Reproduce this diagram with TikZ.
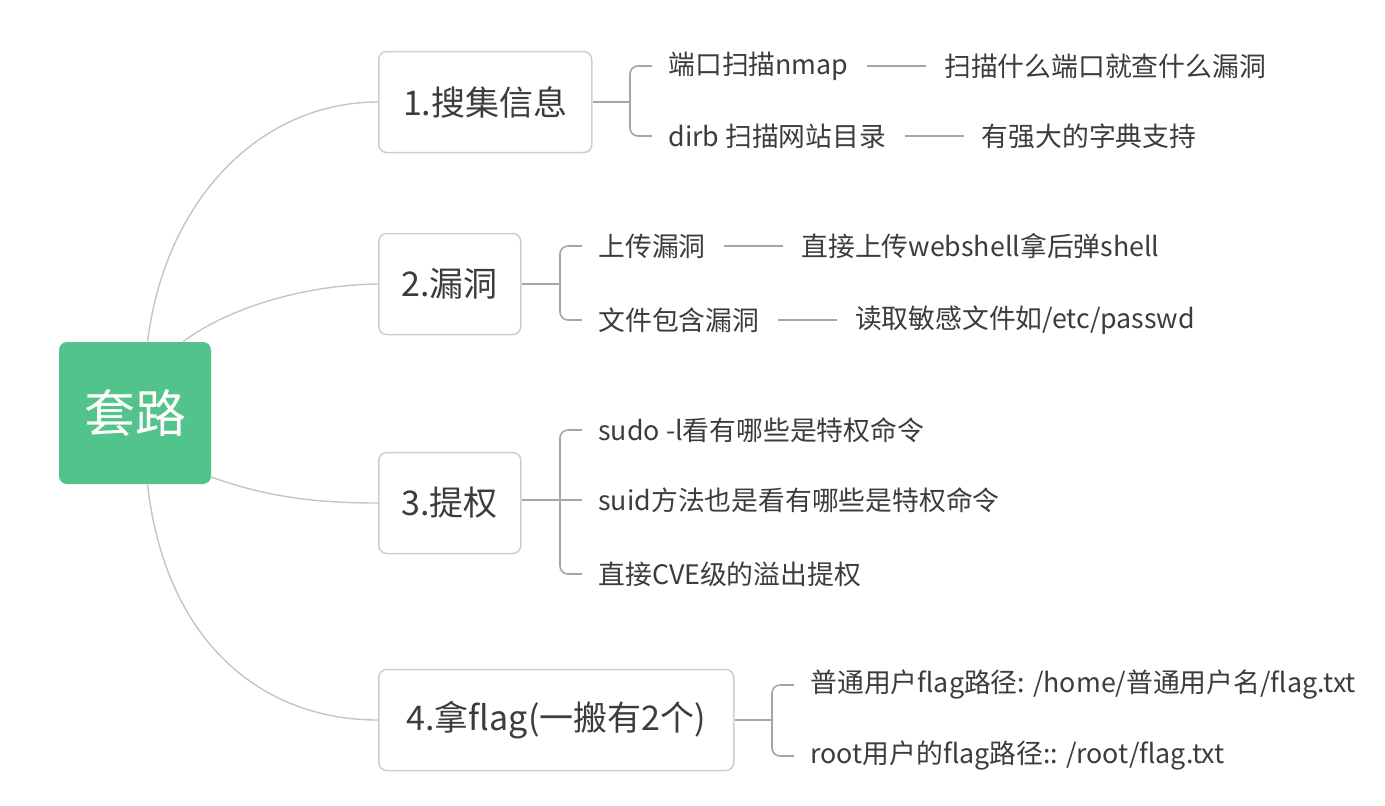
\documentclass[tikz,border=0pt]{standalone}
\usepackage{fontspec}
\setmainfont{Noto Sans CJK SC}
\usetikzlibrary{positioning,calc}

\definecolor{rootgreen}{RGB}{82,195,139}
\definecolor{txtgray}{RGB}{60,60,60}
\definecolor{curvegray}{RGB}{196,196,196}
\definecolor{brkgray}{RGB}{165,165,165}
\definecolor{boxgray}{RGB}{206,206,206}

\tikzset{
  rootbox/.style={fill=rootgreen, text=white, rounded corners=4pt,
    minimum width=76pt, minimum height=71pt, font=\fontsize{25.5}{30}\selectfont},
  topic/.style={draw=boxgray, line width=0.75pt, rounded corners=4pt, fill=white,
    minimum height=50.5pt, inner xsep=8pt, anchor=west, text=txtgray,
    font=\fontsize{17}{20}\selectfont},
  leaf/.style={inner xsep=8pt, inner ysep=0pt, anchor=west, text=txtgray,
    font=\fontsize{13.4}{16}\selectfont},
  curve/.style={draw=curvegray, line width=0.7pt},
  bracket/.style={draw=brkgray, line width=0.8pt, rounded corners=4pt},
  dashline/.style={draw=brkgray, line width=0.6pt, shorten <=1pt, shorten >=1pt}
}

\begin{document}
\begin{tikzpicture}[x=0.5pt, y=-0.5pt]
  \useasboundingbox (0,0) rectangle (1385,805);

  % root and main topics
  \node[rootbox] (root) at (135,413) {套路};
  \node[topic, minimum width=106.5pt] (gather) at (378,102) {1.搜集信息};
  \node[topic, minimum width=71pt] (vuln) at (378,284) {2.漏洞};
  \node[topic, minimum width=71pt] (priv) at (378,503) {3.提权};
  \node[topic, minimum width=177.5pt] (flag) at (378,720) {4.拿flag(一搬有2个)};

  \draw[curve] (root.80) .. controls (165,200) and (260,102) .. (gather.west);
  \draw[curve] (root.56) .. controls (225,310) and (300,285) .. (vuln.west);
  \draw[curve] (root.-40) .. controls (270,498) and (320,503) .. (priv.west);
  \draw[curve] (root.-80) .. controls (165,640) and (260,720) .. (flag.west);

  % 1. gather
  \node[leaf] (nmap) at (652,66) {端口扫描nmap};
  \node[leaf, right=31.5pt of nmap] (nmapnote) {扫描什么端口就查什么漏洞};
  \node[leaf] (dirb) at (652,136) {dirb 扫描网站目录};
  \node[leaf, right=31.5pt of dirb] (dirbnote) {有强大的字典支持};
  \coordinate (jgather) at (630,102);
  \draw[bracket] (gather.east) -- (jgather);
  \draw[bracket] (jgather) |- (nmap.west);
  \draw[bracket] (jgather) |- (dirb.west);
  \draw[dashline] (nmap) -- (nmapnote);
  \draw[dashline] (dirb) -- (dirbnote);

  % 2. vuln
  \node[leaf] (upload) at (582,246) {上传漏洞};
  \node[leaf, right=31.5pt of upload] (uploadnote) {直接上传webshell拿后弹shell};
  \node[leaf] (incl) at (582,320) {文件包含漏洞};
  \node[leaf, right=31.5pt of incl] (inclnote) {读取敏感文件如/etc/passwd};
  \coordinate (jvuln) at (560,284);
  \draw[bracket] (vuln.east) -- (jvuln);
  \draw[bracket] (jvuln) |- (upload.west);
  \draw[bracket] (jvuln) |- (incl.west);
  \draw[dashline] (upload) -- (uploadnote);
  \draw[dashline] (incl) -- (inclnote);

  % 3. priv
  \node[leaf] (sudo) at (582,430) {sudo -l看有哪些是特权命令};
  \node[leaf] (suid) at (582,500) {suid方法也是看有哪些是特权命令};
  \node[leaf] (cve) at (582,574) {直接CVE级的溢出提权};
  \coordinate (jpriv) at (560,500);
  \draw[bracket] (priv.east |- suid) -- (suid.west);
  \draw[bracket] (jpriv) |- (sudo.west);
  \draw[bracket] (jpriv) |- (cve.west);

  % 4. flag
  \node[leaf] (home) at (794,685) {普通用户flag路径: /home/普通用户名/flag.txt};
  \node[leaf] (rootflag) at (794,756) {root用户的flag路径:: /root/flag.txt};
  \coordinate (jflag) at (772,720);
  \draw[bracket] (flag.east) -- (jflag);
  \draw[bracket] (jflag) |- (home.west);
  \draw[bracket] (jflag) |- (rootflag.west);
\end{tikzpicture}
\end{document}
